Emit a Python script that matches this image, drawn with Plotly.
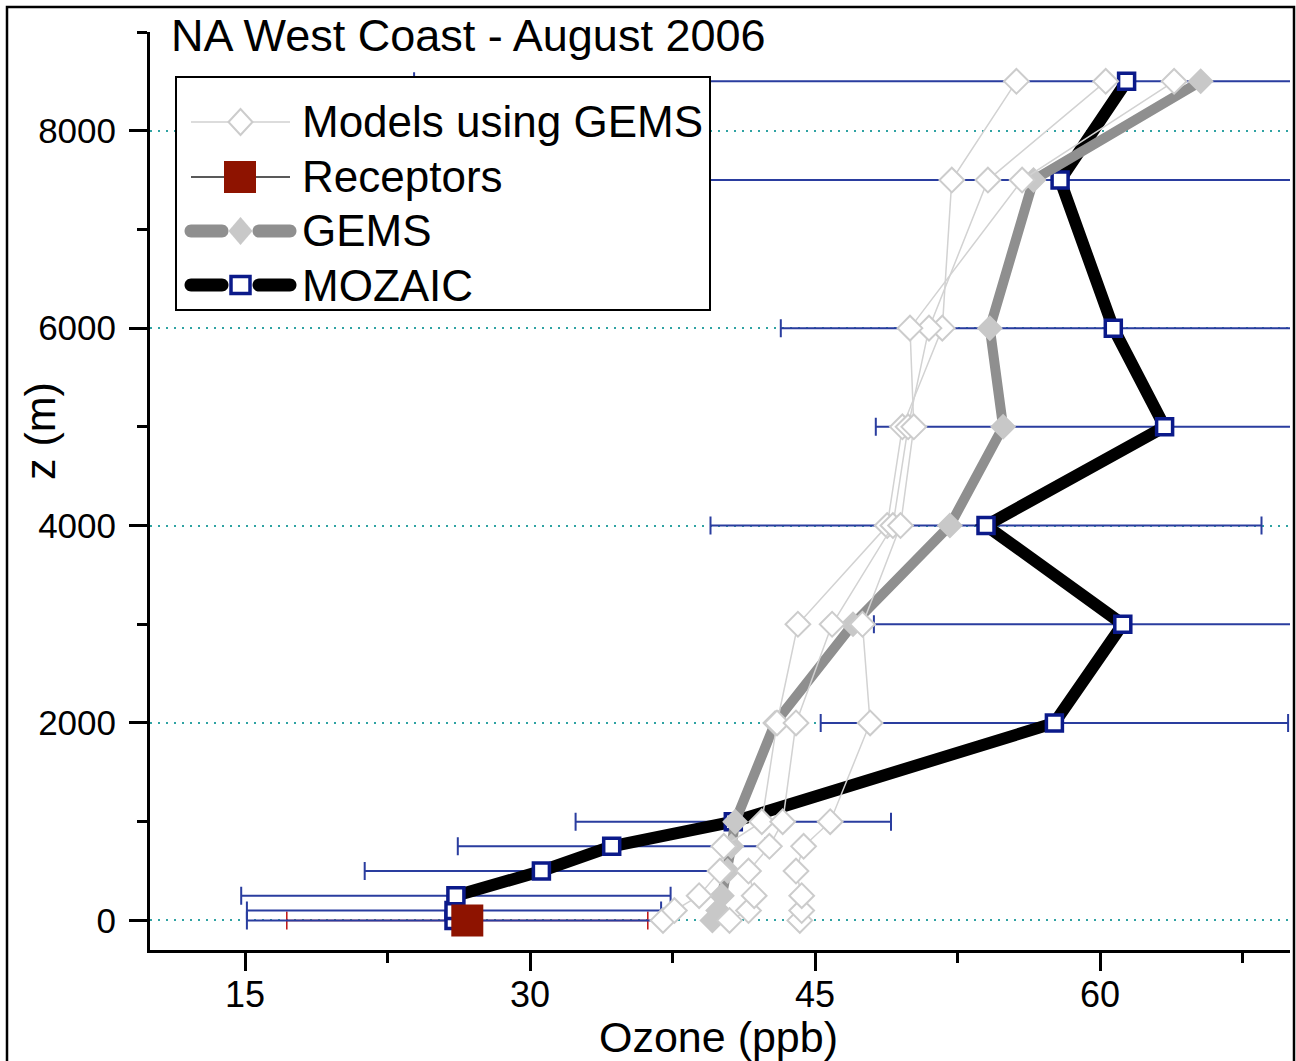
import plotly.graph_objects as go

# Altitude levels (m) shared by every profile
levels = [0, 100, 250, 500, 750, 1000, 2000, 3000, 4000, 5000, 6000, 7500, 8500]

# MOZAIC aircraft profile (ppb) and its standard deviation
mozaic = [26.0, 26.0, 26.1, 30.6, 34.3, 40.7, 57.6, 61.2, 54.0, 63.4, 60.7, 57.9, 61.4]
mozaic_sd = [10.9, 10.9, 11.3, 9.3, 8.1, 8.3, 12.3, 13.1, 14.5, 15.2, 17.5, 25.0, 37.5]

# GEMS boundary-condition profile (ppb)
gems = [39.6, 39.9, 40.1, 40.4, 40.6, 40.8, 42.9, 47.0, 52.1, 54.9, 54.2, 56.5, 65.3]

# Regional models driven by GEMS boundary conditions (ppb)
models = {
    "Model A": [37.0, 37.6, 38.9, 40.0, 40.2, 42.2, 43.0, 44.1, 48.8, 49.6, 51.7, 52.2, 55.6],
    "Model B": [40.5, 41.5, 41.8, 41.5, 42.6, 43.3, 44.0, 45.9, 49.1, 49.9, 51.0, 54.1, 60.3],
    "Model C": [44.2, 44.3, 44.3, 44.0, 44.4, 45.8, 47.9, 47.5, 49.5, 50.2, 50.0, 55.9, 63.9],
}

# Surface receptor sites
receptor_z = [0]
receptor_o3 = [26.7]
receptor_sd = [9.5]

x_ticks = [15, 30, 45, 60]
y_ticks = [0, 2000, 4000, 6000, 8000]

FONT = "Liberation Sans, Arial, sans-serif"
W, H = 1296, 1061
PLOT_LEFT, PLOT_TOP, PLOT_RIGHT, PLOT_BOTTOM = 150, 32, 1290, 950
PW, PH = PLOT_RIGHT - PLOT_LEFT, PLOT_BOTTOM - PLOT_TOP

NAVY = "#0b1a8a"
ERR_BLUE = "#2a3d9f"
GEMS_LINE = "#8f8f8f"
GEMS_MARK = "#c8c8c8"
MODEL_GREY = "#cccccc"
RED = "#8e1300"

fig = go.Figure()

# receptor spread, kept underneath the MOZAIC bars so only its caps peek out
fig.add_trace(go.Scatter(
    x=receptor_o3, y=receptor_z, mode="markers", name="Receptors spread", showlegend=False,
    marker=dict(size=1, color="rgba(0,0,0,0)"),
    error_x=dict(type="data", array=receptor_sd, color="#c01010", thickness=1.5, width=9),
    hoverinfo="skip",
))

fig.add_trace(go.Scatter(
    x=mozaic, y=levels, mode="lines+markers", name="MOZAIC", showlegend=False,
    line=dict(color="black", width=12),
    marker=dict(symbol="square", size=16, color="white", line=dict(color=NAVY, width=3.5)),
    error_x=dict(type="data", array=mozaic_sd, color=ERR_BLUE, thickness=2, width=9),
))

fig.add_trace(go.Scatter(
    x=receptor_o3, y=receptor_z, mode="markers", name="Receptors", showlegend=False,
    marker=dict(symbol="square", size=32, color=RED, line=dict(width=0)),
))

fig.add_trace(go.Scatter(
    x=gems, y=levels, mode="lines+markers", name="GEMS", showlegend=False,
    line=dict(color=GEMS_LINE, width=10),
    marker=dict(symbol="diamond", size=20, color=GEMS_MARK, line=dict(width=0)),
))

for name, vals in models.items():
    fig.add_trace(go.Scatter(
        x=vals, y=levels, mode="lines+markers", name=name, showlegend=False,
        line=dict(color="#d2d2d2", width=1.5),
        marker=dict(symbol="diamond", size=19, color="white", line=dict(color=MODEL_GREY, width=2)),
    ))


# ---- hand-drawn legend box (pixel offsets from the plot's top-left corner) ----
def _dx(px):
    return px - PLOT_LEFT


def _dy(py):
    return PLOT_TOP - py


def pixel_shape(**kw):
    base = dict(xref="paper", yref="paper", xsizemode="pixel", ysizemode="pixel",
                xanchor=0, yanchor=1, layer="above")
    base.update(kw)
    return base


def rect(x0, y0, x1, y1, **style):
    return pixel_shape(type="rect", x0=_dx(x0), x1=_dx(x1), y0=_dy(y0), y1=_dy(y1), **style)


def hline(x0, x1, y, color, width):
    return pixel_shape(type="line", x0=_dx(x0), x1=_dx(x1), y0=_dy(y), y1=_dy(y),
                       line=dict(color=color, width=width))


def _pt(x, y):
    return f"{_dx(x):.2f},{_dy(y):.2f}"


def diamond(xc, yc, hw, hh, fill, edge, lw):
    d = f"M{_pt(xc - hw, yc)} L{_pt(xc, yc - hh)} L{_pt(xc + hw, yc)} L{_pt(xc, yc + hh)} Z"
    return pixel_shape(type="path", path=d, fillcolor=fill, line=dict(color=edge, width=lw))


def pill(xa, xb, yc, r, color):
    k = 0.5523 * r
    d = (f"M{_pt(xa, yc - r)} L{_pt(xb, yc - r)} "
         f"C{_pt(xb + k, yc - r)} {_pt(xb + r, yc - k)} {_pt(xb + r, yc)} "
         f"C{_pt(xb + r, yc + k)} {_pt(xb + k, yc + r)} {_pt(xb, yc + r)} "
         f"L{_pt(xa, yc + r)} "
         f"C{_pt(xa - k, yc + r)} {_pt(xa - r, yc + k)} {_pt(xa - r, yc)} "
         f"C{_pt(xa - r, yc - k)} {_pt(xa - k, yc - r)} {_pt(xa, yc - r)} Z")
    return pixel_shape(type="path", path=d, fillcolor=color, line=dict(width=0))


rows = [122, 177, 231, 285]
shapes = [
    # outer frame around the figure
    rect(7, 7, 1294, 1080, line=dict(color="black", width=2.5), fillcolor="rgba(0,0,0,0)"),
    # legend background
    rect(176, 77, 710, 310, line=dict(color="black", width=2), fillcolor="white"),
    # Models using GEMS
    hline(191, 290, rows[0], "#d0d0d0", 1.5),
    diamond(240.5, rows[0], 12, 13, "white", MODEL_GREY, 2),
    # Receptors
    hline(191, 290, rows[1], "#222222", 1.5),
    rect(224, rows[1] - 16, 256, rows[1] + 16, line=dict(width=0), fillcolor=RED),
    # GEMS
    pill(191, 222, rows[2], 6.5, GEMS_LINE),
    pill(259, 290, rows[2], 6.5, GEMS_LINE),
    diamond(240.5, rows[2], 12, 14, GEMS_MARK, GEMS_MARK, 0.1),
    # MOZAIC
    pill(191, 222, rows[3], 6.5, "black"),
    pill(259, 290, rows[3], 6.5, "black"),
    rect(231, rows[3] - 8.5, 250, rows[3] + 8.5, line=dict(color=NAVY, width=3.5), fillcolor="white"),
]


def paper_x(px):
    return (px - PLOT_LEFT) / PW


def paper_y(py):
    return (PLOT_BOTTOM - py) / PH


legend_labels = ["Models using GEMS", "Receptors", "GEMS", "MOZAIC"]
annotations = [
    dict(text=lab, x=paper_x(300), y=paper_y(yc), xref="paper", yref="paper",
         xanchor="left", yanchor="middle", showarrow=False,
         font=dict(family=FONT, size=44, color="black"))
    for lab, yc in zip(legend_labels, rows)
]
annotations += [
    dict(text="NA West Coast - August 2006", x=paper_x(169), y=paper_y(36),
         xref="paper", yref="paper", xanchor="left", yanchor="middle", showarrow=False,
         font=dict(family=FONT, size=45, color="black")),
    dict(text="Ozone (ppb)", x=paper_x(718), y=paper_y(1037),
         xref="paper", yref="paper", xanchor="center", yanchor="middle", showarrow=False,
         font=dict(family=FONT, size=43, color="black")),
    dict(text="z (m)", x=paper_x(40), y=paper_y(431), textangle=-90,
         xref="paper", yref="paper", xanchor="center", yanchor="middle", showarrow=False,
         font=dict(family=FONT, size=43, color="black")),
]

fig.update_layout(
    width=W, height=H,
    margin=dict(l=PLOT_LEFT, r=W - PLOT_RIGHT, t=PLOT_TOP, b=H - PLOT_BOTTOM, pad=0),
    paper_bgcolor="white", plot_bgcolor="white",
    showlegend=False,
    shapes=shapes,
    annotations=annotations,
    xaxis=dict(
        range=[10, 70], tickmode="array", tickvals=x_ticks, ticktext=[str(v) for v in x_ticks],
        ticks="outside", ticklen=18, tickwidth=3, tickcolor="black",
        showline=True, linewidth=3, linecolor="black", showgrid=False, zeroline=False,
        tickfont=dict(family=FONT, size=36, color="black"), ticklabelstandoff=-7,
        minor=dict(tickmode="linear", tick0=7.5, dtick=15, ticks="outside", ticklen=10,
                   tickwidth=3, tickcolor="black", showgrid=False),
    ),
    yaxis=dict(
        range=[-300, 9000], tickmode="array", tickvals=y_ticks, ticktext=[str(v) for v in y_ticks],
        ticks="outside", ticklen=18, tickwidth=3, tickcolor="black",
        showline=True, linewidth=3, linecolor="black", zeroline=False,
        showgrid=True, gridcolor="#2fa3a3", gridwidth=2, griddash="2px,6px",
        tickfont=dict(family=FONT, size=35, color="black"), ticklabelstandoff=6,
        minor=dict(tickmode="linear", tick0=1000, dtick=2000, ticks="outside", ticklen=10,
                   tickwidth=3, tickcolor="black", showgrid=False),
    ),
)

fig.write_html("out.html")
